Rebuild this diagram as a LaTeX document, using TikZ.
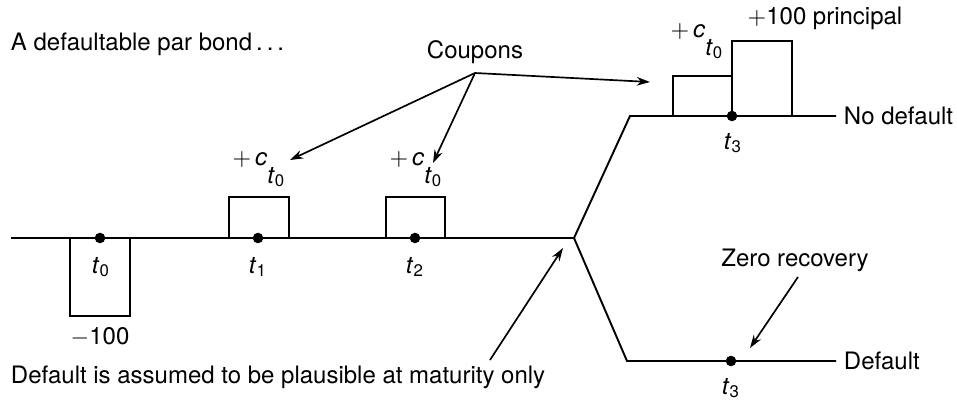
\documentclass[tikz,border=0pt]{standalone}
\usepackage{fontspec}
\setmainfont{TeX Gyre Heros}
\usepackage{tikz}
\usetikzlibrary{arrows.meta}
\usetikzlibrary{positioning}
\tikzset{>={Stealth[length=5.5pt,width=3.6pt]}}
\tikzset{
  pt/.style={circle,fill=black,inner sep=0pt,minimum size=4.4pt},
  note/.style={inner sep=0pt},
  pointer/.style={->,line width=0.7pt}
}
\newcommand{\tsub}[1]{\textit{t}\textsubscript{#1}}
\newcommand{\coupon}{$+$\,\textit{c}\raisebox{-7.6pt}{\tsub{0}}}

\begin{document}
\begin{tikzpicture}[x=0.01465cm,y=-0.01465cm,line width=0.8pt]
\useasboundingbox (0,0) rectangle (957,402);
% time line and the two branches at maturity
\coordinate (start) at (11,238);
\coordinate (fork) at (574,238);
\coordinate (up) at (630,116);
\coordinate (upend) at (836,116);
\coordinate (down) at (627,361);
\coordinate (downend) at (836,361);
\draw (start) -- (fork) -- (up) -- (upend);
\draw (fork) -- (down) -- (downend);
% cash flows
\draw (70,238) rectangle (130,316);
\draw (229,238) rectangle (289,197);
\draw (386,238) rectangle (445,197);
\draw (673,116) rectangle (732,76);
\draw (732,116) rectangle (792,41);
% dates
\node[pt] (d0) at (100,238) {};
\node[pt] (d1) at (258,238) {};
\node[pt] (d2) at (415,238) {};
\node[pt] (d3up) at (732,116) {};
\node[pt] (d3down) at (731,361) {};
\node (t0) at (101,267) {\tsub{0}};
\node (t1) at (258,267) {\tsub{1}};
\node (t2) at (415,267) {\tsub{2}};
\node (t3up) at (733,143) {\tsub{3}};
\node (t3down) at (731,388) {\tsub{3}};
% amounts
\node (minus) at (100,337) {$-$100};
\node[note,anchor=base] (c1) at (259,165) {\coupon};
\node[note,anchor=base] (c2) at (416,165) {\coupon};
\node[note,anchor=base] (c3) at (697,37) {\coupon};
\node[note,anchor=base] (prin) at (825,24) {$+$100 principal};
% texts
\node[note,anchor=west] (title) at (10,44) {A defaultable par bond\,.\,.\,.};
\node[note] (coupons) at (475,52) {Coupons};
\node[note,anchor=west] (nodef) at (843,116) {No default};
\node[note,anchor=west] (def) at (843,361) {Default};
\node[note] (zero) at (795,260) {Zero recovery};
\node[note,anchor=west] (assume) at (10,377) {Default is assumed to be plausible at maturity only};
% pointers
\coordinate (cfrom) at (475,73);
\coordinate (tip1) at (290,160);
\coordinate (tip2) at (433,163);
\coordinate (tip3) at (650,82);
\coordinate (zfrom) at (798,277);
\coordinate (ztip) at (750,348);
\coordinate (afrom) at (490,360);
\coordinate (atip) at (563,248);
\path[pointer]
  (cfrom) edge (tip1)
  (cfrom) edge (tip2)
  (cfrom) edge (tip3)
  (zfrom) edge (ztip)
  (afrom) edge (atip);
\end{tikzpicture}
\end{document}
